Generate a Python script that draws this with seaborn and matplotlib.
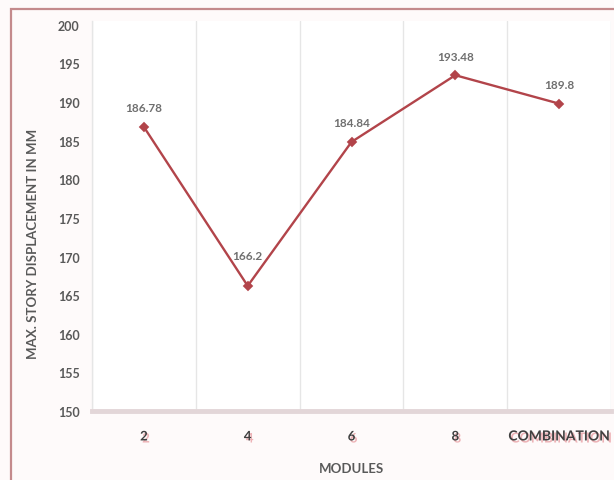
import matplotlib
matplotlib.use("Agg")
import matplotlib.pyplot as plt
import matplotlib.patheffects as pe
from matplotlib.patches import Rectangle
import seaborn as sns
import pandas as pd

# Maximum story displacement per module configuration
modules = ["2", "4", "6", "8", "COMBINATION"]
displacement = [186.78, 166.2, 184.84, 193.48, 189.8]
y_ticks = [150, 155, 160, 165, 170, 175, 180, 185, 190, 195, 200]

df = pd.DataFrame({"module": modules, "disp": displacement})

sns.set_theme(style="white")
plt.rcParams["font.family"] = ["Lato", "DejaVu Sans"]

fig = plt.figure(figsize=(6.14, 4.81), dpi=100, facecolor="#fefafa")
ax = fig.add_axes([92 / 614, 1 - 412 / 481, (611 - 92) / 614, (412 - 22) / 481])
ax.set_facecolor("white")

line_col = "#b2444a"
sns.pointplot(data=df, x="module", y="disp", ax=ax, color=line_col,
              markers="D", markersize=4, linewidth=1.7, errorbar=None)

ax.set_xlim(-0.5, len(modules) - 0.5)
ax.set_ylim(150, 200.5)
ax.set_yticks(y_ticks)
ax.set_yticklabels([str(t) for t in y_ticks], fontsize=9, color="#595959",
                   fontweight="bold")

# vertical separators between categories
ax.set_xticks([i - 0.5 for i in range(len(modules) + 1)], minor=True)
ax.grid(True, axis="x", which="minor", color="#e6e6e6", linewidth=1)
ax.grid(False, axis="y")
ax.tick_params(axis="x", which="both", length=0, pad=14)
ax.tick_params(axis="y", length=0, pad=9)

shadow = [pe.withSimplePatchShadow(offset=(1.5, -1.5), shadow_rgbFace="#e07a80",
                                   alpha=0.55)]
ax.set_xticks(range(len(modules)))
ax.set_xticklabels(modules, fontsize=9.5, fontweight="bold", color="#404040")
for lbl in ax.get_xticklabels():
    lbl.set_path_effects(shadow)
ax.get_xticklabels()[-1].set_fontsize(10)

for side in ["top", "right"]:
    ax.spines[side].set_visible(False)
ax.spines["left"].set_color("#e6e6e6")
ax.spines["left"].set_linewidth(1)
ax.spines["bottom"].set_color("#e3d6d8")
ax.spines["bottom"].set_linewidth(3.5)

ax.set_xlabel("MODULES", fontsize=9.5, fontweight="bold", color="#595959", labelpad=14)
ax.set_ylabel("MAX. STORY DISPLACEMENT IN MM", fontsize=9.5, fontweight="bold",
              color="#595959")
ax.yaxis.set_label_coords(-0.103, 0.43)

# value labels above each point
label_lift = [19, 30, 19, 19, 19]
for i, (v, lift) in enumerate(zip(displacement, label_lift)):
    ax.annotate(f"{v:g}", (i, v), xytext=(0, lift * 0.72), textcoords="offset points",
                ha="center", va="center", fontsize=8.5, color="#6f6f6f",
                fontweight="bold")

# outer frame
fig.patches.append(Rectangle((11 / 614, -0.05), 1.2, 1 - 10 / 481 + 0.05,
                             transform=fig.transFigure, fill=False,
                             edgecolor="#c48a8c", linewidth=1.6))

fig.savefig("out.png", dpi=100, facecolor=fig.get_facecolor())
